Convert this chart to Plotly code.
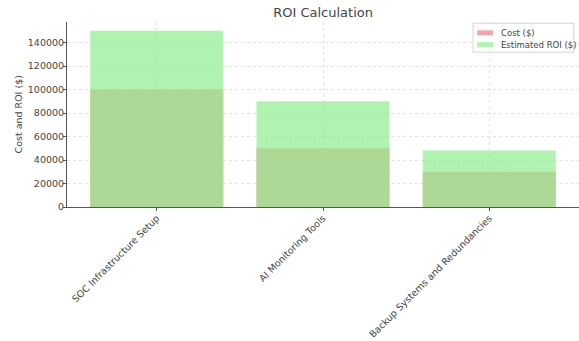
import plotly.graph_objects as go

categories = ["SOC Infrastructure Setup", "AI Monitoring Tools", "Backup Systems and Redundancies"]
cost = [100000, 50000, 30000]
roi = [150000, 90000, 48000]
series_names = ["Cost ($)", "Estimated ROI ($)"]
series_colors = ["rgba(240,128,128,0.7)", "rgba(144,238,144,0.7)"]

fig = go.Figure()
fig.add_trace(go.Bar(x=categories, y=cost, name=series_names[0], marker_color="#F08080",
                     opacity=0.7, width=0.8, marker_line_width=0))
fig.add_trace(go.Bar(x=categories, y=roi, name=series_names[1], marker_color="#90EE90",
                     opacity=0.7, width=0.8, marker_line_width=0))

fig.update_layout(
    width=579, height=341,
    margin=dict(l=67, r=0, t=22, b=134, autoexpand=False),
    barmode="overlay",
    showlegend=False,
    plot_bgcolor="white", paper_bgcolor="white",
    font=dict(family="DejaVu Sans", size=10, color="#444"),
    title=dict(text="ROI Calculation", x=0.558, xanchor="center", y=0.978, yanchor="top",
               font=dict(size=13, color="#444")),
)

# compact legend drawn in plot-area coordinates
fig.add_shape(type="rect", xref="paper", yref="paper", x0=0.793, x1=0.990, y0=0.837, y1=0.993,
              fillcolor="rgba(255,255,255,0.85)", line=dict(color="#d5d5d5", width=1), layer="above")
sw_y = [(0.928, 0.955), (0.864, 0.891)]
txt_y = [0.939, 0.874]
for name, col, (y0, y1), ty in zip(series_names, series_colors, sw_y, txt_y):
    fig.add_shape(type="rect", xref="paper", yref="paper", x0=0.801, x1=0.832, y0=y0, y1=y1,
                  fillcolor=col, line=dict(width=0), layer="above")
    fig.add_annotation(xref="paper", yref="paper", x=0.844, y=ty, text=name, showarrow=False,
                       xanchor="left", yanchor="middle", font=dict(size=8.5, color="#444"))

# y-axis title
fig.add_annotation(xref="paper", yref="paper", x=-0.0957, y=0.5, text="Cost and ROI ($)",
                   textangle=-90, showarrow=False, xanchor="center", yanchor="middle",
                   font=dict(size=9.5, color="#444"))

fig.update_xaxes(range=[-0.54, 2.54], tickangle=-45, showgrid=True, gridcolor="#e3e3e3",
                 griddash="dot", gridwidth=1, showline=True, linecolor="#555", linewidth=1,
                 ticks="outside", ticklen=3, tickcolor="#555", automargin=False,
                 ticklabelstandoff=-2, tickfont=dict(size=9.5, color="#444"))
fig.update_yaxes(range=[0, 157500], dtick=20000, tickformat="d", showgrid=True, gridcolor="#e3e3e3",
                 griddash="dot", gridwidth=1, showline=True, linecolor="#555", linewidth=1,
                 ticks="outside", ticklen=3, tickcolor="#555", zeroline=False, automargin=False,
                 ticklabelstandoff=-3, tickfont=dict(size=9.5, color="#444"))

fig.write_html("out.html")
